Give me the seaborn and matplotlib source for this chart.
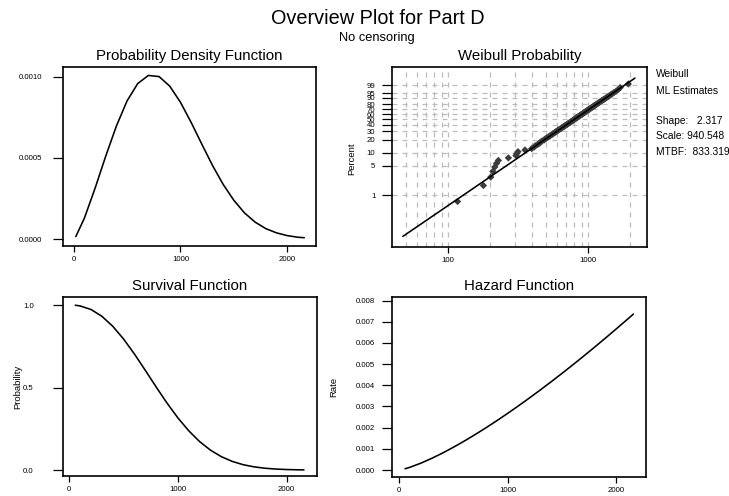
import numpy as np
import matplotlib
matplotlib.use("Agg")
import matplotlib.pyplot as plt
import seaborn as sns
from matplotlib.ticker import FixedLocator, NullFormatter, FormatStrFormatter

sns.set_style("white")
plt.rcParams['font.family'] = ['Liberation Sans', 'DejaVu Sans']
plt.rcParams['text.color'] = 'black'
plt.rcParams['axes.labelcolor'] = 'black'

# ---- data ----
pdf_x = [20, 100, 200, 300, 400, 500, 600, 700, 800, 900, 1000, 1100,
         1200, 1300, 1400, 1500, 1600, 1700, 1800, 1900, 2000, 2100, 2160]
pdf_y = [0.000015, 0.000128, 0.000312, 0.000510, 0.000696, 0.000851,
         0.000958, 0.001008, 0.001001, 0.000942, 0.000843, 0.000719,
         0.000585, 0.000454, 0.000337, 0.000239, 0.000161, 0.000104,
         0.000064, 0.000038, 0.000021, 0.000011, 0.000008]

curve_x = [55, 100, 200, 300, 400, 500, 600, 700, 800, 900, 1000, 1100,
           1200, 1300, 1400, 1500, 1600, 1700, 1800, 1900, 2000, 2100, 2160]
surv_y = [0.9986, 0.9945, 0.9727, 0.9316, 0.8712, 0.7935, 0.7026, 0.6038,
          0.5029, 0.4053, 0.3158, 0.2375, 0.1723, 0.1204, 0.0810, 0.0524,
          0.0325, 0.0194, 0.0111, 0.0061, 0.0032, 0.0016, 0.0010]
haz_y = [0.000059, 0.000129, 0.000321, 0.000547, 0.000799, 0.001072,
         0.001363, 0.001670, 0.001991, 0.002325, 0.002671, 0.003028,
         0.003396, 0.003773, 0.004160, 0.004556, 0.004960, 0.005372,
         0.005792, 0.006220, 0.006655, 0.007096, 0.007364]

# failure times and plotting positions (percent) on the Weibull plot
fail_times = [117, 179, 202, 209, 216, 222, 229, 270, 306, 310,
              316, 355, 396, 412, 420, 437, 450, 458, 470, 486,
              494, 506, 520, 532, 541, 553, 562, 575, 585, 594,
              606, 614, 626, 640, 648, 656, 668, 679, 688, 697,
              709, 718, 727, 740, 748, 757, 769, 778, 790, 797,
              806, 818, 826, 838, 846, 858, 868, 877, 890, 898,
              910, 920, 931, 942, 952, 963, 976, 985, 999, 1010,
              1022, 1036, 1048, 1060, 1074, 1088, 1100, 1114, 1130, 1146,
              1160, 1176, 1193, 1210, 1228, 1246, 1266, 1287, 1310, 1335,
              1362, 1390, 1418, 1452, 1488, 1530, 1585, 1640, 1700, 1940]
fail_pct = [0.7, 1.7, 2.7, 3.7, 4.7, 5.7, 6.7, 7.7, 8.7, 9.7,
            10.7, 11.7, 12.6, 13.6, 14.6, 15.6, 16.6, 17.6, 18.6, 19.6,
            20.6, 21.6, 22.6, 23.6, 24.6, 25.6, 26.6, 27.6, 28.6, 29.6,
            30.6, 31.6, 32.6, 33.6, 34.6, 35.6, 36.6, 37.5, 38.5, 39.5,
            40.5, 41.5, 42.5, 43.5, 44.5, 45.5, 46.5, 47.5, 48.5, 49.5,
            50.5, 51.5, 52.5, 53.5, 54.5, 55.5, 56.5, 57.5, 58.5, 59.5,
            60.5, 61.5, 62.4, 63.4, 64.4, 65.4, 66.4, 67.4, 68.4, 69.4,
            70.4, 71.4, 72.4, 73.4, 74.4, 75.4, 76.4, 77.4, 78.4, 79.4,
            80.4, 81.4, 82.4, 83.4, 84.4, 85.4, 86.4, 87.3, 88.3, 89.3,
            90.3, 91.3, 92.3, 93.3, 94.3, 95.3, 96.3, 97.3, 98.3, 99.3]

fit_x = [47.6, 2166]
fit_pct = [0.1, 99.9]

pct_ticks = [1, 5, 10, 20, 30, 40, 50, 60, 70, 80, 90, 95, 99]
grid_x_minor = [50, 60, 70, 80, 90, 200, 300, 400, 500, 600, 700, 800, 900, 2000]

shape, scale, mtbf = 2.317, 940.548, 833.319


def wb_fwd(p):
    p = np.clip(np.asarray(p, dtype=float), 1e-9, 100 - 1e-9) / 100.0
    return np.log(-np.log1p(-p))


def wb_inv(w):
    return 100.0 * (-np.expm1(-np.exp(np.asarray(w, dtype=float))))


fig = plt.figure(figsize=(7.29, 4.96), dpi=100)
W, H = 729.0, 496.0


def make_ax(l, r, t, b):
    return fig.add_axes([l / W, 1 - b / H, (r - l) / W, (b - t) / H])


ax_pdf = make_ax(63, 316, 67, 246)
ax_wb = make_ax(392, 647, 67, 247)
ax_sv = make_ax(63, 317, 297, 476)
ax_hz = make_ax(392, 646, 297, 477)

line_kw = dict(color='black', linewidth=1.15)

sns.lineplot(x=pdf_x, y=pdf_y, ax=ax_pdf, sort=False, **line_kw)
sns.lineplot(x=curve_x, y=surv_y, ax=ax_sv, sort=False, **line_kw)
sns.lineplot(x=curve_x, y=haz_y, ax=ax_hz, sort=False, **line_kw)

# Weibull probability plot
ax_wb.set_xscale('log')
ax_wb.set_yscale('function', functions=(wb_fwd, wb_inv))
sns.scatterplot(x=fail_times, y=fail_pct, ax=ax_wb, marker='D', s=14,
                color='#3c3c3c', edgecolor='none', zorder=3)
sns.lineplot(x=fit_x, y=fit_pct, ax=ax_wb, sort=False, zorder=4, **line_kw)
ax_wb.set_xlim(39.8, 2640)
ax_wb.set_ylim(wb_inv(-7.5), wb_inv(2.55))
ax_wb.xaxis.set_major_locator(FixedLocator([100, 1000]))
ax_wb.xaxis.set_major_formatter(FormatStrFormatter('%d'))
ax_wb.xaxis.set_minor_locator(FixedLocator(grid_x_minor))
ax_wb.xaxis.set_minor_formatter(NullFormatter())
ax_wb.yaxis.set_major_locator(FixedLocator(pct_ticks))
ax_wb.yaxis.set_major_formatter(FormatStrFormatter('%d'))
ax_wb.yaxis.set_minor_locator(FixedLocator([]))
grid_kw = dict(color='#bcbcbc', linewidth=0.9, linestyle=(0, (4, 4)))
ax_wb.grid(True, which='both', axis='x', **grid_kw)
ax_wb.grid(True, which='major', axis='y', **grid_kw)
ax_wb.set_axisbelow(True)
ax_wb.tick_params(axis='x', which='minor', length=0)
ax_wb.set_ylabel('Percent', fontsize=6.8)
ax_wb.yaxis.set_label_coords(-0.14, 0.49)

# other panels
ax_pdf.set_xlim(-100, 2270)
ax_pdf.set_ylim(-0.000043, 0.00106)
ax_pdf.set_xticks([0, 1000, 2000])
ax_pdf.set_yticks([0, 0.0005, 0.0010])
ax_pdf.yaxis.set_major_formatter(FormatStrFormatter('%.4f'))

ax_sv.set_xlim(-58, 2280)
ax_sv.set_ylim(-0.036, 1.0485)
ax_sv.set_xticks([0, 1000, 2000])
ax_sv.set_yticks([0, 0.5, 1.0])
ax_sv.yaxis.set_major_formatter(FormatStrFormatter('%.1f'))
ax_sv.set_ylabel('Probability', fontsize=6.8)
ax_sv.yaxis.set_label_coords(-0.16, 0.5)

ax_hz.set_xlim(-65, 2276)
ax_hz.set_ylim(-0.00033, 0.00817)
ax_hz.set_xticks([0, 1000, 2000])
ax_hz.set_yticks([0.000, 0.001, 0.002, 0.003, 0.004, 0.005, 0.006, 0.007, 0.008])
ax_hz.yaxis.set_major_formatter(FormatStrFormatter('%.3f'))
ax_hz.set_ylabel('Rate', fontsize=6.8)
ax_hz.yaxis.set_label_coords(-0.21, 0.5)

titles = {ax_pdf: 'Probability Density Function', ax_wb: 'Weibull Probability',
          ax_sv: 'Survival Function', ax_hz: 'Hazard Function'}
for ax, ttl in titles.items():
    ax.set_title(ttl, fontsize=10.8, pad=5, color='black')
    ax.set_xlabel('')
    for sp in ax.spines.values():
        sp.set_visible(True)
        sp.set_color('black')
        sp.set_linewidth(1.2)
    ax.tick_params(axis='x', which='major', bottom=True, direction='out',
                   length=4, width=0.9, labelsize=5.6, pad=3, colors='black')
    ax.tick_params(axis='y', which='major', left=True, direction='out',
                   length=7, width=0.9, labelsize=5.6, pad=5, colors='black')
ax_pdf.tick_params(axis='y', pad=8)
ax_sv.tick_params(axis='y', pad=14)

fig.text(378 / W, 1 - 19 / H, 'Overview Plot for Part D', ha='center',
         va='center', fontsize=14.3)
fig.text(377 / W, 1 - 38 / H, 'No censoring', ha='center', va='center',
         fontsize=9.3)

info = [('Weibull', 74), ('ML Estimates', 91), ('Shape:   %.3f' % shape, 121),
        ('Scale: %.3f' % scale, 136), ('MTBF:  %.3f' % mtbf, 152)]
for txt, yy in info:
    fig.text(656 / W, 1 - yy / H, txt, ha='left', va='center', fontsize=7.4)

fig.savefig('out.png', dpi=100)
